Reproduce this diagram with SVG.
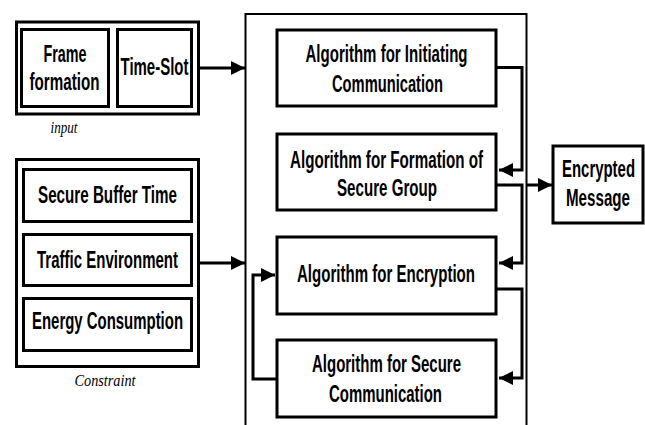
<svg xmlns="http://www.w3.org/2000/svg" width="645" height="425" viewBox="0 0 645 425">
<style>
.box{fill:#fff;stroke:#000;stroke-width:3}
.outer{fill:none;stroke:#000;stroke-width:3}
.main{fill:none;stroke:#000;stroke-width:2}
.t{font-family:"Liberation Sans Narrow","Liberation Sans",Arial,sans-serif;font-weight:bold;font-size:23px;text-anchor:middle;fill:#000}
.cap{font-family:"Liberation Serif","Times New Roman",serif;font-style:italic;font-size:17px;text-anchor:middle;fill:#000}
.c{fill:none;stroke:#000;stroke-width:3;marker-end:url(#ah)}
</style>
<defs>
<marker id="ah" markerUnits="userSpaceOnUse" markerWidth="15" markerHeight="15" refX="14" refY="7" orient="auto">
<path d="M0,0 L14,7 L0,14 z" fill="#000"/>
</marker>
</defs>
<rect class="main" x="245.5" y="14" width="281" height="430"/>
<g id="input-group">
<rect class="outer" x="16.5" y="22" width="182" height="92"/>
<text class="cap" x="64" y="133" textLength="27" lengthAdjust="spacingAndGlyphs">input</text>
</g>
<g id="frame-formation">
<rect class="box" x="21.5" y="29.5" width="87" height="77"/>
<text class="t" x="65" y="61.5" textLength="43" lengthAdjust="spacingAndGlyphs">Frame</text>
<text class="t" x="64.5" y="90" textLength="70" lengthAdjust="spacingAndGlyphs">formation</text>
</g>
<g id="time-slot">
<rect class="box" x="117.5" y="29.5" width="74" height="77"/>
<text class="t" x="154.5" y="75" textLength="68" lengthAdjust="spacingAndGlyphs">Time-Slot</text>
</g>
<g id="constraint-group">
<rect class="outer" x="16.5" y="159.5" width="182" height="207"/>
<text class="cap" x="105" y="386" textLength="61" lengthAdjust="spacingAndGlyphs">Constraint</text>
</g>
<g id="secure-buffer">
<rect class="box" x="23.5" y="169.5" width="168" height="52"/>
<text class="t" x="107.5" y="203" textLength="139" lengthAdjust="spacingAndGlyphs">Secure Buffer Time</text>
</g>
<g id="traffic">
<rect class="box" x="23.5" y="234.5" width="168" height="51"/>
<text class="t" x="107.5" y="268" textLength="141" lengthAdjust="spacingAndGlyphs">Traffic Environment</text>
</g>
<g id="energy">
<rect class="box" x="23.5" y="298.5" width="168" height="52"/>
<text class="t" x="107.5" y="329" textLength="151" lengthAdjust="spacingAndGlyphs">Energy Consumption</text>
</g>
<g id="alg-init">
<rect class="box" x="277" y="30" width="219" height="76"/>
<text class="t" x="386.5" y="62" textLength="162" lengthAdjust="spacingAndGlyphs">Algorithm for Initiating</text>
<text class="t" x="387.5" y="92" textLength="111" lengthAdjust="spacingAndGlyphs">Communication</text>
</g>
<g id="alg-formation">
<rect class="box" x="277" y="134" width="219" height="76"/>
<text class="t" x="386.5" y="168" textLength="193" lengthAdjust="spacingAndGlyphs">Algorithm for Formation of</text>
<text class="t" x="387" y="196" textLength="100" lengthAdjust="spacingAndGlyphs">Secure Group</text>
</g>
<g id="alg-encryption">
<rect class="box" x="277" y="237" width="219" height="77"/>
<text class="t" x="386" y="282" textLength="178" lengthAdjust="spacingAndGlyphs">Algorithm for Encryption</text>
</g>
<g id="alg-secure-comm">
<rect class="box" x="277" y="340" width="219" height="77"/>
<text class="t" x="386.5" y="372" textLength="149" lengthAdjust="spacingAndGlyphs">Algorithm for Secure</text>
<text class="t" x="385.5" y="402" textLength="113" lengthAdjust="spacingAndGlyphs">Communication</text>
</g>
<g id="encrypted-message">
<rect class="box" x="553" y="146" width="90" height="77"/>
<text class="t" x="598.5" y="177" textLength="73" lengthAdjust="spacingAndGlyphs">Encrypted</text>
<text class="t" x="598" y="206" textLength="64" lengthAdjust="spacingAndGlyphs">Message</text>
</g>
<g id="connectors">
<path class="c" d="M200 68 H245"/>
<path class="c" d="M200 263 H245"/>
<path class="c" d="M497 67.5 H522 V170 H499"/>
<path class="c" d="M497 185 H522 V263 H499"/>
<path class="c" d="M497 289 H522 V378 H499"/>
<path class="c" d="M277 379 H253 V275 H275"/>
<path class="c" d="M527 185 H552"/>
</g>
</svg>
